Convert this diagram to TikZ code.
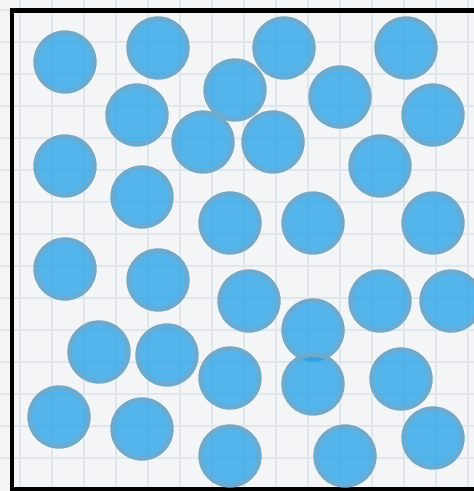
\documentclass[tikz,border=0pt]{standalone}
\usepackage{xcolor}
\usetikzlibrary{positioning}
\definecolor{paper}{RGB}{243,245,246}
\definecolor{gridgrey}{RGB}{224,231,236}
\definecolor{ballblue}{RGB}{30,160,232}
\definecolor{rimblue}{RGB}{108,170,208}

\begin{document}
\begin{tikzpicture}[
		x=0.03cm,
		y=-0.03cm,
		gridln/.style={draw=gridgrey, line width=0.06cm},
		frame/.style={draw=black, line width=0.15cm},
		ball/.style={
			circle,
			fill=ballblue,
			fill opacity=0.75,
			draw=rimblue,
			draw opacity=1,
			line width=0.14cm,
			minimum size=1.76cm,
			inner sep=0pt
		}
	]
	
	% Canvas
	\useasboundingbox (0,0) rectangle (474,491);
	\clip (0,0) rectangle (474,491);
	\fill[paper] (0,0) rectangle (474,491);
	
	% Grid
	\foreach \k in {0,...,14}{
		\draw[gridln] ({20+32*\k},0) -- ({20+32*\k},491);
		\draw[gridln] (0,{10+32*\k}) -- (474,{10+32*\k});
	}
	
	% Box
	\draw[frame] (12,10) rectangle (500,489);
	
	% Balls
	\foreach \i/\x/\y in {
		1/65/62, 2/158/48, 3/284/48, 4/406/48,
		5/235/90, 6/137/115, 7/340/97, 8/433/115,
		9/65/166, 10/203/142, 11/273/142, 12/380/166,
		13/142/197, 14/230/223, 15/313/223, 16/433/223,
		17/65/269, 18/158/280, 19/249/301, 20/380/301,
		21/451/301, 22/313/330, 23/99/352, 24/167/355,
		25/230/378, 26/313/384, 27/401/379, 28/59/417,
		29/142/429, 30/230/456, 31/345/456, 32/433/438}{
		\node[ball] (b\i) at (\x,\y) {};
	}
	
\end{tikzpicture}
\end{document}
